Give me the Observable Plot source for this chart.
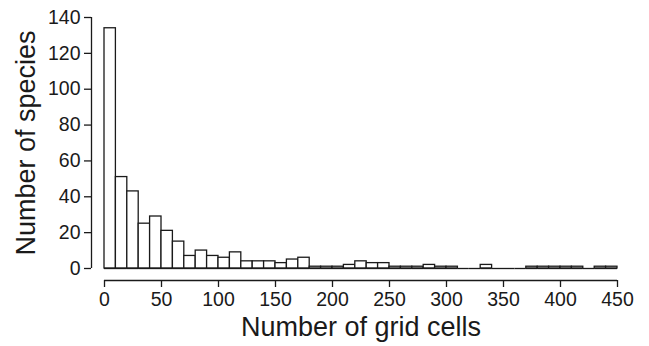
<!DOCTYPE html>
<html>
<head>
<meta charset="utf-8">
<script src="https://cdn.jsdelivr.net/npm/d3@7"></script>
<script src="https://cdn.jsdelivr.net/npm/@observablehq/plot@0.6"></script>
<style>
  html, body { margin: 0; padding: 0; background: #fff; }
  #chart svg { display: block; }
</style>
</head>
<body>
<div id="chart"></div>
<script>
const binStarts = [0,10,20,30,40,50,60,70,80,90,100,110,120,130,140,150,160,170,180,190,200,210,220,230,240,250,260,270,280,290,300,310,320,330,340,350,360,370,380,390,400,410,420,430,440];
const counts    = [134,51,43,25,29,21,15,7,10,7,6,9,4,4,4,3,5,6,1,1,1,2,4,3,3,1,1,1,2,1,1,0,0,2,0,0,0,1,1,1,1,1,0,1,1];
const binWidth = 10;
const xTicks = [0,50,100,150,200,250,300,350,400,450];
const yTicks = [0,20,40,60,80,100,120,140];
const xTitle = "Number of grid cells";
const yTitle = "Number of species";

const bins = binStarts.map((b, i) => ({x1: b, x2: b + binWidth, count: counts[i]}));
const ink = "#1a1a1a";

const chart = Plot.plot({
  width: 649,
  height: 346,
  marginLeft: 104,
  marginRight: 32,
  marginTop: 17,
  marginBottom: 78,
  style: {fontFamily: "'Liberation Sans', Arial, sans-serif", color: ink, background: "#fff"},
  x: {domain: [0, 450]},
  y: {domain: [0, 140]},
  marks: [
    Plot.rectY(bins, {x1: "x1", x2: "x2", y: "count", fill: "white", stroke: ink, strokeWidth: 1.3, inset: 0}),
    Plot.ruleY(bins, {x1: "x1", x2: "x2", y: 0, stroke: ink, strokeWidth: 1.3}),
    Plot.ruleY([0], {x1: 0, x2: 450, dy: 12, stroke: ink, strokeWidth: 1.3}),
    Plot.ruleX([0], {y1: 0, y2: 140, dx: -13, stroke: ink, strokeWidth: 1.3}),
    Plot.axisX({ticks: xTicks, tickSize: 7, tickPadding: 5, dy: 12, fontSize: 19.5, label: null, strokeWidth: 1.3}),
    Plot.axisY({ticks: yTicks, tickSize: 7, tickPadding: 4, dx: -13, fontSize: 19.5, label: null, strokeWidth: 1.3}),
    Plot.text([xTitle], {frameAnchor: "bottom", lineAnchor: "middle", textAnchor: "middle", dy: 59, fontSize: 27, fill: ink}),
    Plot.text([yTitle], {frameAnchor: "left", textAnchor: "middle", lineAnchor: "middle", rotate: -90, dx: -78, fontSize: 27, fill: ink})
  ]
});
document.getElementById("chart").appendChild(chart);
</script>
</body>
</html>
